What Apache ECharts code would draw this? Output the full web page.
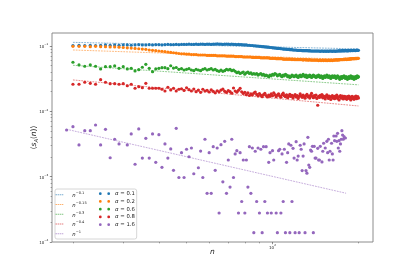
<!DOCTYPE html>
<html><head><meta charset="utf-8">
<script src="https://cdn.jsdelivr.net/npm/echarts@6/dist/echarts.min.js"></script>
<style>html,body{margin:0;padding:0;background:#fff}#c{width:415px;height:277px}</style>
</head><body><div id="c"></div>
<script>
// ---------- data ----------
const nMain = [20,21,22,23,24,25,26,27,28,29,30,31,32,33,34,35,36,37,38,39,40,41,42,43,44,45,46,47,48,49,
50,51,52,53,54,55,56,57,58,59,60,61,62,63,64,65,66,67,68,69,70,71,72,73,74,75,76,77,78,79,
80,81,82,83,84,85,86,87,88,89,90,91,92,93,94,95,96,97,98,99,100,101,102,103,104,105,106,107,108,109,
110,111,112,113,114,115,116,117,118,119,120,121,122,123,124,125,126,127,128,129,130,131,132,133,134,135,136,137,138,139,
140,141,142,143,144,145,146,147,148,149,150,151,152,153,154,155,156,157,158,159,160,161,162,163,164,165,166,167,168,169,
170,171,172,173,174,175,176,177,178,179,180,181,182,183,184,185,186,187,188,189,190,191,192,193,194,195,196,197,198,199,200];

const nPurple = [19,20,21,22,23,24,25,26,27,28,29,30,31,32,33,34,35,36,37,38,39,40,41,42,43,44,45,46,47,48,49,
50,51,52,53,54,55,56,57,58,59,60,61,62,63,64,65,66,67,68,69,70,71,72,73,74,75,76,77,78,79,
80,81,82,83,84,85,86,87,88,89,90,91,92,93,94,95,96,97,98,99,100,101,102,103,104,105,106,107,108,109,
110,111,112,113,114,115,116,117,118,119,120,121,122,123,124,125,126,127,128,129,130,131,132,133,134,135,136,137,138,139,
140,141,142,143,144,145,146,147,148,149,150,151,152,153,154,155,156,157,158,159,160,161,162,163,164,165,166,167,168,169,
170,171,172,173,174,175,176,177,178,179,180,181];

const blueVals = [
0.102,0.103,0.102,0.103,0.102,0.103,0.104,0.103,0.104,0.103,
0.104,0.104,0.103,0.104,0.105,0.104,0.104,0.105,0.104,0.105,
0.105,0.104,0.105,0.106,0.105,0.105,0.106,0.105,0.106,0.106,
0.106,0.107,0.106,0.106,0.107,0.106,0.107,0.107,0.106,0.107,
0.107,0.106,0.107,0.107,0.108,0.107,0.107,0.106,0.107,0.107,
0.107,0.106,0.107,0.106,0.106,0.105,0.106,0.105,0.105,0.104,
0.104,0.104,0.103,0.103,0.102,0.102,0.101,0.101,0.100,0.100,
0.099,0.099,0.098,0.098,0.097,0.097,0.096,0.096,0.095,0.095,
0.094,0.094,0.093,0.093,0.092,0.092,0.092,0.091,0.091,0.090,
0.090,0.090,0.089,0.089,0.089,0.088,0.088,0.088,0.087,0.087,
0.087,0.087,0.086,0.086,0.086,0.086,0.086,0.085,0.085,0.085,
0.085,0.085,0.085,0.085,0.084,0.085,0.084,0.084,0.084,0.084,
0.084,0.084,0.084,0.084,0.084,0.084,0.084,0.083,0.084,0.084,
0.084,0.083,0.084,0.084,0.083,0.084,0.084,0.083,0.084,0.084,
0.084,0.084,0.083,0.084,0.084,0.084,0.083,0.084,0.084,0.084,
0.084,0.085,0.084,0.084,0.085,0.084,0.085,0.085,0.084,0.085,
0.085,0.085,0.085,0.084,0.085,0.085,0.086,0.085,0.085,0.086,
0.086,0.085,0.086,0.086,0.086,0.085,0.086,0.086,0.087,0.086,0.086];

const orangeVals = [
0.099,0.099,0.099,0.098,0.099,0.098,0.098,0.097,0.097,0.096,
0.095,0.094,0.093,0.092,0.091,0.090,0.089,0.087,0.086,0.085,
0.084,0.083,0.082,0.081,0.080,0.079,0.078,0.077,0.076,0.076,
0.075,0.075,0.074,0.074,0.074,0.073,0.073,0.073,0.073,0.072,
0.072,0.072,0.072,0.072,0.071,0.071,0.071,0.071,0.071,0.070,
0.070,0.070,0.070,0.070,0.069,0.069,0.069,0.069,0.069,0.068,
0.068,0.068,0.068,0.068,0.068,0.067,0.067,0.067,0.067,0.067,
0.067,0.066,0.066,0.066,0.066,0.066,0.066,0.066,0.065,0.065,
0.065,0.065,0.065,0.064,0.064,0.064,0.064,0.064,0.064,0.063,
0.063,0.063,0.063,0.063,0.063,0.063,0.063,0.062,0.063,0.062,
0.062,0.062,0.062,0.062,0.062,0.062,0.062,0.062,0.061,0.062,
0.062,0.061,0.062,0.061,0.061,0.062,0.061,0.061,0.061,0.061,
0.061,0.061,0.061,0.061,0.061,0.060,0.061,0.061,0.060,0.061,
0.061,0.060,0.061,0.061,0.060,0.061,0.060,0.061,0.061,0.060,
0.061,0.061,0.060,0.061,0.061,0.061,0.061,0.062,0.061,0.061,
0.062,0.061,0.062,0.062,0.062,0.062,0.062,0.062,0.063,0.062,
0.063,0.063,0.062,0.063,0.063,0.063,0.063,0.064,0.063,0.064,
0.064,0.064,0.064,0.064,0.064,0.065,0.064,0.065,0.065,0.065,0.065];

const greenVals = [
0.0565,0.0514,0.0491,0.0514,0.0491,0.0446,0.0484,0.0484,0.0496,0.0457,
0.0484,0.0446,0.0457,0.0416,0.0435,0.0474,0.0526,0.0457,0.0406,0.0446,
0.0457,0.0467,0.0467,0.0450,0.050,0.046,0.047,0.044,0.045,0.043,
0.044,0.045,0.043,0.042,0.044,0.043,0.042,0.044,0.045,0.043,
0.044,0.045,0.043,0.044,0.042,0.041,0.043,0.041,0.042,0.044,
0.043,0.044,0.042,0.043,0.041,0.039,0.040,0.038,0.039,0.040,
0.037,0.039,0.040,0.038,0.039,0.037,0.038,0.037,0.038,0.036,
0.037,0.038,0.036,0.037,0.035,0.036,0.035,0.034,0.036,0.035,
0.037,0.036,0.038,0.037,0.035,0.036,0.037,0.035,0.034,0.036,
0.035,0.037,0.036,0.034,0.035,0.033,0.034,0.036,0.035,0.034,
0.035,0.036,0.034,0.033,0.035,0.036,0.034,0.035,0.037,0.035,
0.034,0.036,0.033,0.035,0.034,0.036,0.035,0.033,0.034,0.036,
0.035,0.034,0.033,0.035,0.034,0.036,0.034,0.033,0.035,0.034,
0.032,0.034,0.035,0.033,0.034,0.036,0.034,0.033,0.035,0.034,
0.032,0.033,0.035,0.034,0.033,0.035,0.034,0.032,0.033,0.035,
0.034,0.033,0.031,0.033,0.034,0.032,0.034,0.033,0.035,0.033,
0.032,0.034,0.033,0.031,0.033,0.034,0.032,0.033,0.035,0.033,
0.032,0.034,0.033,0.031,0.033,0.034,0.032,0.033,0.035,0.033,0.034];

const redVals = [
0.0260,0.0260,0.0279,0.0269,0.0260,0.0306,0.0279,0.0266,0.0266,0.0260,
0.0266,0.0247,0.0260,0.0226,0.0239,0.0231,0.0269,0.0226,0.0226,0.0226,
0.0226,0.0218,0.0205,0.0234,0.0213,0.0226,0.0205,0.0218,0.0222,0.0209,
0.0230,0.0215,0.0205,0.0220,0.0200,0.0212,0.0196,0.0218,0.0205,0.0210,
0.0198,0.0214,0.0203,0.0192,0.0207,0.0199,0.0212,0.0219,0.0203,0.0195,
0.0208,0.0200,0.0190,0.0228,0.0205,0.0197,0.0210,0.0225,0.0199,0.0188,
0.0196,0.0180,0.0192,0.0175,0.0185,0.0178,0.0190,0.0198,0.0182,0.0172,
0.0187,0.0176,0.0168,0.0180,0.0189,0.0175,0.0166,0.0178,0.0170,0.0185,
0.0174,0.0193,0.0180,0.0168,0.0177,0.0186,0.0172,0.0165,0.0180,0.0190,
0.0174,0.0168,0.0179,0.0162,0.0171,0.0183,0.0169,0.0176,0.0160,0.0172,
0.0181,0.0166,0.0175,0.0158,0.0170,0.0185,0.0173,0.0164,0.0177,0.0168,
0.0159,0.0174,0.0182,0.0167,0.0171,0.0160,0.0176,0.0188,0.0169,0.0162,
0.0174,0.0166,0.0178,0.0158,0.0124,0.0170,0.0163,0.0176,0.0168,0.0181,
0.0161,0.0172,0.0165,0.0155,0.0170,0.0179,0.0164,0.0158,0.0172,0.0167,
0.0152,0.0165,0.0175,0.0160,0.0168,0.0156,0.0171,0.0163,0.0177,0.0158,
0.0166,0.0150,0.0169,0.0174,0.0159,0.0165,0.0172,0.0155,0.0163,0.0170,
0.0158,0.0166,0.0153,0.0168,0.0161,0.0172,0.0157,0.0165,0.0150,0.0162,
0.0170,0.0158,0.0164,0.0153,0.0167,0.0160,0.0171,0.0156,0.0163,0.0168,0.0160];

const purpleVals = [
5.19e-3,5.83e-3,3.06e-3,5.06e-3,5.06e-3,6.19e-3,3.06e-3,5.32e-3,1.95e-3,3.74e-3,
3.17e-3,null,3.06e-3,4.51e-3,1.55e-3,5.38e-3,1.93e-3,3.87e-3,1.93e-3,4.51e-3,
1.66e-3,4.40e-3,1.39e-3,3.17e-3,1.93e-3,2.66e-3,1.25e-3,5.51e-3,9.72e-4,2.33e-3,
9.72e-4,2.63e-3,2.02e-3,2.75e-3,1.11e-3,null,1.37e-3,2.47e-3,9.72e-4,3.74e-3,
5.56e-4,2.33e-3,5.56e-4,2.88e-3,1.25e-3,2.75e-3,2.78e-4,3.09e-3,8.33e-4,3.48e-3,
5.56e-4,1.80e-3,6.94e-4,3.74e-3,9.72e-4,2.23e-3,2.50e-3,2.78e-4,2.33e-3,4.17e-4,
1.80e-3,2.78e-4,1.80e-3,6.94e-4,2.88e-3,5.56e-4,2.75e-3,1.39e-4,2.45e-3,4.17e-4,
2.75e-3,2.78e-4,2.63e-3,1.39e-4,2.88e-3,4.17e-4,2.88e-3,2.78e-4,1.66e-3,2.33e-3,
2.78e-4,2.50e-3,1.80e-3,null,2.78e-4,1.39e-4,2.50e-3,2.63e-3,2.78e-4,2.23e-3,
4.17e-4,2.63e-3,1.39e-4,1.66e-3,2.33e-3,3.17e-3,1.39e-4,3.03e-3,4.17e-4,2.72e-3,
1.93e-3,1.39e-4,3.44e-3,1.80e-3,2.07e-3,1.39e-4,3.03e-3,2.63e-3,1.24e-3,2.07e-3,
3.17e-3,1.39e-4,1.24e-3,1.13e-3,4.01e-3,1.51e-3,1.39e-3,2.56e-3,2.45e-3,2.92e-3,
1.39e-4,2.92e-3,1.93e-3,1.93e-3,null,2.72e-3,1.80e-3,1.80e-3,2.92e-3,null,
1.68e-3,2.45e-3,3.25e-3,null,2.75e-3,null,3.48e-3,2.33e-3,3.74e-3,1.80e-3,
2.45e-3,null,3.25e-3,2.23e-3,1.80e-3,4.20e-3,3.56e-3,null,4.20e-3,3.48e-3,
4.62e-3,2.75e-3,3.56e-3,2.45e-3,3.17e-3,3.74e-3,5.06e-3,4.35e-3,3.74e-3,4.10e-3,
null,3.91e-3,null];

// power-law guide lines: end points [n] and values
const fitMainN = [20, 200];
const fitPurpleN = [19, 181];
const fitBlue = [0.114, 0.0905];
const fitOrange = [0.0871, 0.0617];
const fitGreen = [0.0508, 0.0255];
const fitRed = [0.0303, 0.0121];
const fitPurple = [0.00532, 0.000558];

const fitExponents = ['\u22120.1', '\u22120.15', '\u22120.3', '\u22120.4', '\u22121'];
const alphaLabels = ['0.1', '0.2', '0.6', '0.8', '1.6'];
const yMajorExp = [-4, -3, -2, -1];
const xMajorExp = [2];
const xMinorN = [20, 30, 40, 50, 60, 70, 80, 90, 200];
const xRange = [16.89, 224.9];
const yRange = [1e-4, 0.1585];

// ---------- chart ----------
const lg = Math.log10;
function pts(ns, vs) {
  const out = [];
  ns.forEach((n, i) => { if (vs[i] != null) out.push([lg(n), lg(vs[i])]); });
  return out;
}
const colors = ['#1f77b4', '#ff7f0e', '#2ca02c', '#d62728', '#9467bd'];
const FONT = 'DejaVu Sans';
const yMin = lg(yRange[0]), yMax = lg(yRange[1]);
const xMin = lg(xRange[0]), xMax = lg(xRange[1]);
const yMinor = [];
yMajorExp.forEach(d => { for (let k = 2; k <= 9; k++) { const t = d + lg(k); if (t < yMax) yMinor.push(t); } });
const xMinor = xMinorN.map(lg);

const tickRich = {
  b: { fontFamily: FONT, fontSize: 4, lineHeight: 6, verticalAlign: 'bottom', color: '#222' },
  s: { fontFamily: FONT, fontSize: 2.8, lineHeight: 3, verticalAlign: 'top', color: '#222' }
};
const powLabel = v => '{b|10}{s|' + String(Math.round(v)).replace('-', '\u2212') + '}';

const fitNames = fitExponents.map(e => 'fit' + e);
const scNames = alphaLabels.map(a => 'a' + a);
const fitSets = [[fitMainN, fitBlue], [fitMainN, fitOrange], [fitMainN, fitGreen], [fitMainN, fitRed], [fitPurpleN, fitPurple]];
const scSets = [[nMain, blueVals], [nMain, orangeVals], [nMain, greenVals], [nMain, redVals], [nPurple, purpleVals]];

const series = [];
fitSets.forEach((s, i) => series.push({
  name: fitNames[i], type: 'line', data: pts(s[0], s[1]), symbol: 'none', showSymbol: false,
  xAxisIndex: 0, yAxisIndex: 0,
  lineStyle: { color: colors[i], width: 0.9, type: [1.8, 1.0], opacity: 0.6 }, itemStyle: { color: colors[i] },
  z: 2, silent: true, animation: false
}));
scSets.forEach((s, i) => series.push({
  name: scNames[i], type: 'scatter', data: pts(s[0], s[1]), symbol: 'circle', symbolSize: 3.2,
  xAxisIndex: 0, yAxisIndex: 0,
  itemStyle: { color: colors[i], opacity: 1 }, z: 3, silent: true, animation: false
}));

const dashIcon = 'path://M0,0h1.5v0.9h-1.5zM2.1,0h1.5v0.9h-1.5zM4.2,0h1.5v0.9h-1.5zM6.3,0h1.5v0.9h-1.5z';
const twoDots = 'path://M0,1.4a1.4,1.4 0 1,0 2.8,0a1.4,1.4 0 1,0 -2.8,0M8.4,1.4a1.4,1.4 0 1,0 2.8,0a1.4,1.4 0 1,0 -2.8,0';
const legTop = 191.2;
const legendCommon = {
  orient: 'vertical', top: legTop, padding: 0, itemHeight: 7, itemGap: 2.75, selectedMode: false, z: 6
};

const option = {
  animation: false,
  backgroundColor: '#fff',
  grid: { left: 52, right: 42, top: 33, bottom: 35, show: true, borderColor: '#808080', borderWidth: 0.9, backgroundColor: 'transparent' },
  xAxis: [
    { type: 'value', min: xMin, max: xMax, position: 'bottom',
      axisLine: { show: false }, splitLine: { show: false },
      axisTick: { show: true, customValues: xMajorExp, length: 2.2, lineStyle: { color: '#444', width: 0.6 } },
      axisLabel: { show: true, customValues: xMajorExp, margin: 1.6, formatter: powLabel, rich: tickRich },
      name: 'n', nameLocation: 'middle', nameGap: 6, nameMoveOverlap: false,
      nameTextStyle: { fontFamily: FONT, fontStyle: 'italic', fontSize: 7.5, color: '#222' } },
    { type: 'value', min: xMin, max: xMax, position: 'bottom',
      axisLine: { show: false }, splitLine: { show: false },
      axisTick: { show: true, customValues: xMinor, length: 1.4, lineStyle: { color: '#555', width: 0.5 } },
      axisLabel: { show: false } }
  ],
  yAxis: [
    { type: 'value', min: yMin, max: yMax, position: 'left',
      axisLine: { show: false }, splitLine: { show: false },
      axisTick: { show: true, customValues: yMajorExp, length: 2.2, lineStyle: { color: '#444', width: 0.6 } },
      axisLabel: { show: true, customValues: yMajorExp, margin: 3.6, formatter: powLabel, rich: tickRich },
      name: '\u27e8{i|s}{sub|A}({i|n})\u27e9', nameLocation: 'middle', nameGap: 13, nameRotate: 90, nameMoveOverlap: false,
      nameTextStyle: { fontFamily: FONT, fontSize: 7.5, lineHeight: 10, color: '#222',
        rich: {
          i: { fontFamily: FONT, fontStyle: 'italic', fontSize: 7.5, lineHeight: 10, color: '#222' },
          sub: { fontFamily: FONT, fontStyle: 'italic', fontSize: 5.2, lineHeight: 5, verticalAlign: 'bottom', color: '#222' }
        } } },
    { type: 'value', min: yMin, max: yMax, position: 'left',
      axisLine: { show: false }, splitLine: { show: false },
      axisTick: { show: true, customValues: yMinor, length: 1.4, lineStyle: { color: '#555', width: 0.5 } },
      axisLabel: { show: false } }
  ],
  legend: [
    Object.assign({}, legendCommon, {
      left: 55.5, itemWidth: 7.8, icon: dashIcon,
      itemStyle: { opacity: 0.6 },
      data: fitNames,
      formatter: name => '{n|n}{s|' + fitExponents[fitNames.indexOf(name)] + '}',
      textStyle: { padding: [0, 0, 0, 4], rich: {
        n: { fontFamily: FONT, fontStyle: 'italic', fontSize: 5.3, lineHeight: 7, verticalAlign: 'bottom', color: '#222' },
        s: { fontFamily: FONT, fontSize: 3.6, lineHeight: 3, verticalAlign: 'top', color: '#222' } } }
    }),
    Object.assign({}, legendCommon, {
      left: 98.9, itemWidth: 11.2, icon: twoDots,
      data: scNames,
      formatter: name => '{a|\u03b1}{t| = ' + alphaLabels[scNames.indexOf(name)] + '}',
      textStyle: { rich: {
        a: { fontFamily: FONT, fontStyle: 'italic', fontSize: 5.3, lineHeight: 7, color: '#222' },
        t: { fontFamily: FONT, fontSize: 5.3, lineHeight: 7, color: '#222' } } }
    })
  ],
  graphic: [{
    type: 'rect', z: 5, silent: true,
    shape: { x: 55, y: 189, width: 81.7, height: 50, r: 2 },
    style: { fill: 'rgba(255,255,255,0.8)', stroke: '#cccccc', lineWidth: 0.8 }
  }],
  series: series
};

const chart = echarts.init(document.getElementById('c'), null, { renderer: 'canvas' });
chart.setOption(option);
</script>
</body></html>
